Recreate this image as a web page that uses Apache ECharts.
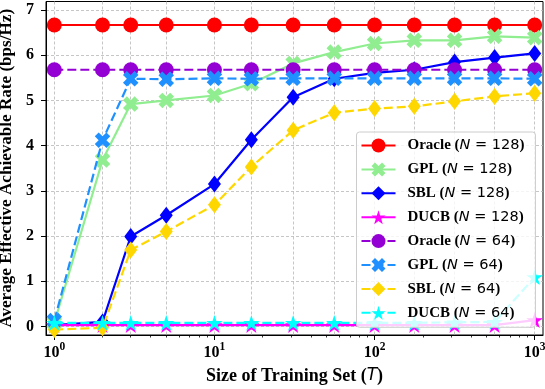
<!DOCTYPE html>
<html>
<head>
<meta charset="utf-8">
<script src="https://cdn.jsdelivr.net/npm/echarts@6/dist/echarts.min.js"></script>
<style>html,body{margin:0;padding:0;background:#fff;}#c{width:545px;height:389px;}</style>
</head>
<body>
<div id="c"></div>
<script>
// ---- data ----
const xValues = [1, 2, 3, 5, 10, 17, 31, 56, 100, 177, 316, 562, 1000];
const oracle128 = [6.67, 6.67, 6.67, 6.67, 6.67, 6.67, 6.67, 6.67, 6.67, 6.67, 6.67, 6.67, 6.67];
const gpl128    = [0.08, 3.68, 4.92, 5.00, 5.11, 5.37, 5.82, 6.07, 6.26, 6.33, 6.33, 6.42, 6.39];
const sbl128    = [0.03, 0.10, 1.99, 2.46, 3.15, 4.13, 5.07, 5.48, 5.61, 5.68, 5.85, 5.95, 6.04];
const ducb128   = [0.03, 0.03, 0.03, 0.03, 0.03, 0.03, 0.03, 0.03, 0.03, 0.03, 0.03, 0.03, 0.14];
const oracle64  = [5.68, 5.68, 5.68, 5.68, 5.68, 5.68, 5.68, 5.68, 5.68, 5.68, 5.68, 5.68, 5.68];
const gpl64     = [0.13, 4.12, 5.48, 5.47, 5.49, 5.48, 5.49, 5.49, 5.49, 5.49, 5.49, 5.49, 5.48];
const sbl64     = [-0.07, -0.03, 1.69, 2.10, 2.69, 3.53, 4.34, 4.73, 4.82, 4.87, 4.98, 5.09, 5.16];
const ducb64    = [0.08, 0.08, 0.08, 0.08, 0.08, 0.08, 0.08, 0.08, 0.08, 0.08, 0.09, 0.10, 1.09];
const seriesNames = ['Oracle (N = 128)', 'GPL (N = 128)', 'SBL (N = 128)', 'DUCB (N = 128)',
                     'Oracle (N = 64)', 'GPL (N = 64)', 'SBL (N = 64)', 'DUCB (N = 64)'];
const yTicks = [0, 1, 2, 3, 4, 5, 6, 7];
const xMajorTicks = [1, 10, 100, 1000];
const xMinorTicks = [2, 3, 4, 5, 6, 7, 8, 9, 20, 30, 40, 50, 60, 70, 80, 90, 200, 300, 400, 500, 600, 700, 800, 900];

// ---- styling ----
const SERIF = 'Liberation Serif';
const SANS = 'DejaVu Sans';
const X_PATH = 'path://M2,-4L4,-2L2,0L4,2L2,4L0,2L-2,4L-4,2L-2,0L-4,-2L-2,-4L0,-2Z';
const STAR_PATH = 'path://M0,-1L-0.2245,-0.309L-0.9511,-0.309L-0.3633,0.118L-0.5878,0.809L0,0.382L0.5878,0.809L0.3633,0.118L0.9511,-0.309L0.2245,-0.309Z';
const seriesData = [oracle128, gpl128, sbl128, ducb128, oracle64, gpl64, sbl64, ducb64];
const colors = ['#ff0000', '#90ee90', '#0000ff', '#ff00ff', '#9400d3', '#1e90ff', '#ffd700', '#00ffff'];
const symbols = ['circle', X_PATH, 'diamond', STAR_PATH, 'circle', X_PATH, 'diamond', STAR_PATH];
const sizes = [15, 15.5, [13, 17], [16.5, 15.7], 15, 15.5, [13, 17], [16.5, 15.7]];
const XMIN = 0.887, XMAX = 1127;

const series = seriesNames.map((name, k) => ({
  type: 'line',
  name: name,
  xAxisIndex: 0,
  yAxisIndex: 0,
  z: 2 + k,
  data: xValues.map((x, i) => [x, seriesData[k][i]]),
  symbol: symbols[k],
  symbolSize: sizes[k],
  showAllSymbol: true,
  clip: true,
  color: colors[k],
  itemStyle: { color: colors[k], borderWidth: 0 },
  lineStyle: { color: colors[k], width: 2.2, type: k >= 4 ? [9, 4] : 'solid' },
  emphasis: { disabled: true },
  animation: false
}));

const gridLine = { show: true, lineStyle: { color: '#b8b8b8', width: 0.8, type: [3, 2] } };
const tickFont = { fontFamily: SERIF, fontWeight: 'bold', fontSize: 16, color: '#000' };

const option = {
  animation: false,
  backgroundColor: '#fff',
  grid: { left: 46, right: 2, top: 1.5, bottom: 54, show: true, borderColor: '#000', borderWidth: 1, backgroundColor: 'transparent', containLabel: false, outerBoundsMode: 'none' },
  legend: {
    orient: 'vertical',
    left: 356.5,
    top: 132,
    z: 20,
    padding: [6, 11, 7, 4],
    itemWidth: 34,
    itemHeight: 17.5,
    itemGap: 8.9,
    backgroundColor: 'rgba(255,255,255,0.8)',
    borderColor: '#cccccc',
    borderWidth: 1,
    borderRadius: 3,
    selectedMode: false,
    data: seriesNames,
    formatter: function (name) {
      const m = name.match(/^(\S+) \(N = (\d+)\)$/);
      return '{b|' + m[1] + ' (}{i|N}{s| = ' + m[2] + '}{b|)}';
    },
    textStyle: {
      padding: [0, 0, 0, 7],
      rich: {
        b: { fontFamily: SERIF, fontWeight: 'bold', fontSize: 15, color: '#000' },
        i: { fontFamily: SANS, fontStyle: 'italic', fontSize: 14.5, color: '#000' },
        s: { fontFamily: SANS, fontSize: 14.5, color: '#000' }
      }
    }
  },
  xAxis: [
    {
      type: 'log', logBase: 10, min: XMIN, max: XMAX, position: 'bottom',
      axisLine: { show: true, onZero: false, lineStyle: { color: '#000', width: 1 } },
      axisTick: { show: true, inside: false, length: 5, customValues: xMajorTicks, lineStyle: { color: '#000', width: 1 } },
      axisLabel: {
        show: true, customValues: xMajorTicks, margin: 6,
        formatter: function (v) { return '{b|10}{sup|' + Math.round(Math.log10(v)) + '}'; },
        rich: {
          b: { fontFamily: SERIF, fontWeight: 'bold', fontSize: 16, color: '#000', verticalAlign: 'bottom', lineHeight: 20 },
          sup: { fontFamily: SERIF, fontWeight: 'bold', fontSize: 11.5, color: '#000', verticalAlign: 'top', lineHeight: 20 }
        }
      },
      splitLine: { show: false },
      name: '{b|Size of Training Set (}{i|T}{b|)}',
      nameLocation: 'middle',
      nameGap: 32,
      nameTextStyle: {
        rich: {
          b: { fontFamily: SERIF, fontWeight: 'bold', fontSize: 18, color: '#000' },
          i: { fontFamily: SANS, fontStyle: 'italic', fontSize: 17, color: '#000' }
        }
      }
    },
    {
      type: 'log', logBase: 10, min: XMIN, max: XMAX, position: 'bottom',
      axisLine: { show: false, onZero: false },
      axisTick: { show: true, inside: false, length: 2.5, customValues: xMinorTicks, lineStyle: { color: '#000', width: 0.8 } },
      axisLabel: { show: false },
      splitLine: { show: false }
    },
    {
      type: 'log', logBase: 10, min: XMIN, max: XMAX, position: 'bottom',
      axisLine: { show: false, onZero: false },
      axisTick: { show: false, customValues: xValues },
      axisLabel: { show: false, customValues: xValues },
      splitLine: gridLine
    }
  ],
  yAxis: [
    {
      type: 'value', min: -0.19, max: 7.19,
      axisLine: { show: true, onZero: false, lineStyle: { color: '#000', width: 1 } },
      axisTick: { show: true, inside: false, length: 5, customValues: yTicks, lineStyle: { color: '#000', width: 1 } },
      axisLabel: Object.assign({ show: true, customValues: yTicks, margin: 12 }, tickFont),
      splitLine: gridLine,
      name: 'Average Effective Achievable Rate (bps/Hz)',
      nameLocation: 'middle',
      nameRotate: 90,
      nameGap: 22,
      nameTextStyle: { fontFamily: SERIF, fontWeight: 'bold', fontSize: 17.1, color: '#000' }
    }
  ],
  series: series
};

const chart = echarts.init(document.getElementById('c'), null, { renderer: 'canvas' });
chart.setOption(option);
</script>
</body>
</html>
